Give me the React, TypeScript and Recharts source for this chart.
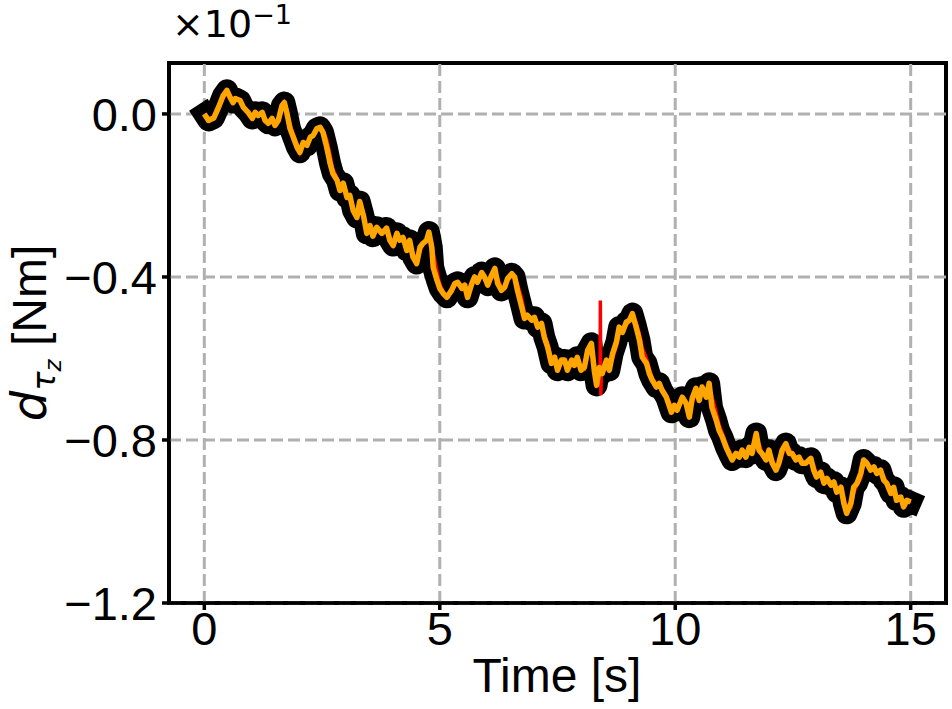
import React from 'react';
import { LineChart, Line, XAxis, YAxis, ReferenceLine, ReferenceArea } from 'recharts';

// Time stamps [s]
const TIME = [0.0,0.09,0.2,0.3,0.4,0.48,0.55,0.61,0.66,0.76,0.83,0.93,1.02,1.08,1.14,1.23,1.29,1.36,1.44,1.5,1.57,1.65,1.7,1.75,1.82,1.89,1.97,2.03,2.1,2.18,2.25,2.31,2.39,2.46,2.52,2.6,2.67,2.73,2.82,2.88,2.95,3.03,3.09,3.16,3.24,3.3,3.38,3.45,3.52,3.58,3.66,3.77,3.87,3.94,4.01,4.09,4.15,4.22,4.3,4.36,4.43,4.51,4.58,4.64,4.72,4.77,4.83,4.86,4.94,5.0,5.07,5.15,5.25,5.32,5.38,5.47,5.53,5.59,5.68,5.74,5.8,5.89,5.95,6.02,6.1,6.17,6.23,6.31,6.38,6.44,6.53,6.59,6.65,6.74,6.8,6.86,6.95,7.01,7.08,7.16,7.22,7.29,7.37,7.44,7.5,7.58,7.65,7.71,7.8,7.86,7.92,8.0,8.07,8.14,8.22,8.28,8.33,8.39,8.45,8.54,8.6,8.67,8.75,8.81,8.88,8.96,9.03,9.09,9.17,9.24,9.3,9.39,9.45,9.51,9.6,9.66,9.72,9.81,9.92,9.98,10.04,10.15,10.23,10.3,10.36,10.44,10.51,10.57,10.66,10.72,10.78,10.87,10.93,11.0,11.08,11.14,11.21,11.29,11.36,11.42,11.5,11.57,11.63,11.72,11.78,11.84,11.93,11.99,12.06,12.14,12.2,12.27,12.35,12.42,12.48,12.56,12.63,12.69,12.77,12.88,12.94,13.0,13.09,13.16,13.22,13.31,13.37,13.43,13.52,13.58,13.64,13.73,13.79,13.86,13.94,14.0,14.07,14.15,14.22,14.28,14.36,14.43,14.49,14.58,14.64,14.7,14.79,14.85,14.92,15.0];

// Reference disturbance (black), x10^-1 Nm
const TRUTH = [0.0,-0.016,-0.01,0.016,0.045,0.058,0.04,0.028,0.038,0.033,0.016,0.004,-0.011,0.004,-0.004,0.004,-0.016,-0.023,-0.011,-0.028,-0.016,0.021,0.028,0.004,-0.036,-0.057,-0.082,-0.094,-0.07,-0.077,-0.057,-0.053,-0.036,-0.033,-0.045,-0.082,-0.121,-0.146,-0.163,-0.188,-0.17,-0.205,-0.2,-0.237,-0.254,-0.215,-0.25,-0.293,-0.274,-0.3,-0.278,-0.293,-0.28,-0.31,-0.323,-0.293,-0.31,-0.303,-0.335,-0.31,-0.351,-0.367,-0.327,-0.318,-0.31,-0.29,-0.327,-0.376,-0.408,-0.428,-0.44,-0.45,-0.433,-0.416,-0.413,-0.428,-0.42,-0.45,-0.416,-0.4,-0.413,-0.389,-0.4,-0.42,-0.396,-0.379,-0.416,-0.433,-0.425,-0.404,-0.392,-0.4,-0.433,-0.474,-0.502,-0.494,-0.506,-0.499,-0.523,-0.514,-0.548,-0.572,-0.612,-0.597,-0.629,-0.604,-0.604,-0.629,-0.604,-0.617,-0.597,-0.629,-0.622,-0.58,-0.563,-0.629,-0.666,-0.622,-0.637,-0.604,-0.629,-0.588,-0.56,-0.523,-0.536,-0.511,-0.506,-0.49,-0.523,-0.555,-0.597,-0.612,-0.637,-0.653,-0.67,-0.661,-0.678,-0.695,-0.732,-0.715,-0.727,-0.695,-0.71,-0.744,-0.698,-0.673,-0.703,-0.67,-0.695,-0.661,-0.72,-0.751,-0.776,-0.793,-0.818,-0.833,-0.849,-0.833,-0.842,-0.825,-0.842,-0.818,-0.833,-0.784,-0.825,-0.833,-0.849,-0.825,-0.857,-0.874,-0.857,-0.825,-0.809,-0.833,-0.833,-0.849,-0.842,-0.857,-0.857,-0.845,-0.874,-0.891,-0.879,-0.906,-0.894,-0.911,-0.903,-0.928,-0.916,-0.955,-0.98,-0.955,-0.916,-0.906,-0.882,-0.849,-0.857,-0.874,-0.866,-0.882,-0.874,-0.899,-0.906,-0.931,-0.916,-0.948,-0.94,-0.964,-0.948,-0.952];

// Estimator A (blue)
const EST_BLUE = [0.0,-0.012,-0.008,0.014,0.042,0.055,0.042,0.03,0.036,0.03,0.014,0.002,-0.01,0.002,-0.004,0.002,-0.014,-0.022,-0.012,-0.026,-0.018,0.016,0.024,0.002,-0.04,-0.066,-0.088,-0.09,-0.068,-0.074,-0.058,-0.054,-0.04,-0.036,-0.05,-0.09,-0.128,-0.15,-0.166,-0.184,-0.172,-0.2,-0.202,-0.232,-0.25,-0.22,-0.254,-0.288,-0.278,-0.296,-0.282,-0.29,-0.284,-0.306,-0.32,-0.298,-0.308,-0.306,-0.33,-0.314,-0.348,-0.362,-0.33,-0.32,-0.312,-0.296,-0.34,-0.384,-0.412,-0.43,-0.44,-0.446,-0.43,-0.418,-0.416,-0.426,-0.424,-0.444,-0.418,-0.404,-0.41,-0.392,-0.402,-0.416,-0.398,-0.384,-0.412,-0.43,-0.424,-0.406,-0.394,-0.404,-0.44,-0.478,-0.5,-0.496,-0.504,-0.5,-0.52,-0.518,-0.552,-0.578,-0.606,-0.6,-0.624,-0.606,-0.608,-0.626,-0.606,-0.614,-0.6,-0.626,-0.62,-0.584,-0.57,-0.624,-0.66,-0.626,-0.634,-0.608,-0.626,-0.59,-0.564,-0.528,-0.534,-0.514,-0.508,-0.494,-0.53,-0.562,-0.6,-0.616,-0.64,-0.656,-0.672,-0.664,-0.68,-0.7,-0.728,-0.718,-0.724,-0.698,-0.712,-0.738,-0.7,-0.678,-0.7,-0.674,-0.692,-0.666,-0.728,-0.758,-0.78,-0.796,-0.82,-0.834,-0.846,-0.836,-0.84,-0.828,-0.84,-0.822,-0.83,-0.79,-0.822,-0.834,-0.846,-0.828,-0.856,-0.87,-0.858,-0.828,-0.812,-0.83,-0.836,-0.846,-0.844,-0.854,-0.856,-0.848,-0.872,-0.888,-0.882,-0.902,-0.896,-0.908,-0.906,-0.924,-0.92,-0.95,-0.972,-0.958,-0.92,-0.908,-0.886,-0.854,-0.858,-0.872,-0.868,-0.88,-0.876,-0.896,-0.908,-0.928,-0.92,-0.944,-0.942,-0.96,-0.95,-0.952];

// Estimator B (red)
const EST_RED = [0.0,-0.01,-0.012,0.01,0.038,0.054,0.044,0.03,0.034,0.034,0.018,0.006,-0.008,0.0,-0.002,0.002,-0.012,-0.02,-0.014,-0.024,-0.02,0.012,0.026,0.01,-0.026,-0.05,-0.074,-0.094,-0.074,-0.074,-0.06,-0.052,-0.04,-0.032,-0.04,-0.064,-0.1,-0.136,-0.158,-0.18,-0.176,-0.198,-0.204,-0.228,-0.25,-0.226,-0.244,-0.282,-0.282,-0.292,-0.284,-0.288,-0.286,-0.302,-0.318,-0.302,-0.306,-0.308,-0.326,-0.318,-0.342,-0.362,-0.336,-0.32,-0.314,-0.298,-0.316,-0.34,-0.386,-0.418,-0.436,-0.448,-0.438,-0.42,-0.414,-0.424,-0.426,-0.44,-0.424,-0.406,-0.41,-0.394,-0.398,-0.414,-0.402,-0.386,-0.404,-0.426,-0.428,-0.41,-0.394,-0.398,-0.418,-0.452,-0.49,-0.498,-0.5,-0.502,-0.514,-0.52,-0.538,-0.564,-0.6,-0.604,-0.62,-0.612,-0.606,-0.622,-0.61,-0.612,-0.604,-0.622,-0.626,-0.592,-0.566,-0.61,-0.654,-0.63,-0.636,-0.612,-0.62,-0.6,-0.57,-0.534,-0.532,-0.518,-0.508,-0.496,-0.512,-0.54,-0.574,-0.6,-0.626,-0.648,-0.664,-0.666,-0.674,-0.69,-0.72,-0.722,-0.722,-0.704,-0.708,-0.73,-0.71,-0.68,-0.696,-0.68,-0.688,-0.668,-0.694,-0.732,-0.762,-0.784,-0.81,-0.826,-0.842,-0.84,-0.838,-0.832,-0.836,-0.826,-0.828,-0.8,-0.81,-0.83,-0.842,-0.834,-0.848,-0.868,-0.864,-0.836,-0.814,-0.822,-0.834,-0.842,-0.846,-0.85,-0.858,-0.85,-0.862,-0.884,-0.886,-0.898,-0.9,-0.904,-0.908,-0.92,-0.922,-0.94,-0.97,-0.966,-0.93,-0.91,-0.894,-0.86,-0.854,-0.866,-0.87,-0.876,-0.878,-0.89,-0.906,-0.922,-0.924,-0.938,-0.944,-0.956,-0.954,-0.95];

// Short transient in estimator B
const RED_SPIKE_T = [8.405, 8.41, 8.415, 8.42, 8.43];
const RED_SPIKE_V = [-0.62, -0.458, -0.6, -0.69, -0.64];

// Estimator C (orange)
const EST_ORANGE = [0.0,-0.016,-0.01,0.016,0.045,0.058,0.04,0.028,0.038,0.033,0.016,0.004,-0.011,0.004,-0.004,0.004,-0.016,-0.023,-0.011,-0.028,-0.016,0.021,0.028,0.004,-0.036,-0.057,-0.082,-0.094,-0.07,-0.077,-0.057,-0.053,-0.036,-0.033,-0.045,-0.082,-0.121,-0.146,-0.163,-0.188,-0.17,-0.205,-0.2,-0.237,-0.254,-0.215,-0.25,-0.293,-0.274,-0.3,-0.278,-0.293,-0.28,-0.31,-0.323,-0.293,-0.31,-0.303,-0.335,-0.31,-0.351,-0.367,-0.327,-0.318,-0.31,-0.29,-0.327,-0.376,-0.408,-0.428,-0.44,-0.45,-0.433,-0.416,-0.413,-0.428,-0.42,-0.45,-0.416,-0.4,-0.413,-0.389,-0.4,-0.42,-0.396,-0.379,-0.416,-0.433,-0.425,-0.404,-0.392,-0.4,-0.433,-0.474,-0.502,-0.494,-0.506,-0.499,-0.523,-0.514,-0.548,-0.572,-0.612,-0.597,-0.629,-0.604,-0.604,-0.629,-0.604,-0.617,-0.597,-0.629,-0.622,-0.58,-0.563,-0.629,-0.666,-0.622,-0.637,-0.604,-0.629,-0.588,-0.56,-0.523,-0.536,-0.511,-0.506,-0.49,-0.523,-0.555,-0.597,-0.612,-0.637,-0.653,-0.67,-0.661,-0.678,-0.695,-0.732,-0.715,-0.727,-0.695,-0.71,-0.744,-0.698,-0.673,-0.703,-0.67,-0.695,-0.661,-0.72,-0.751,-0.776,-0.793,-0.818,-0.833,-0.849,-0.833,-0.842,-0.825,-0.842,-0.818,-0.833,-0.784,-0.825,-0.833,-0.849,-0.825,-0.857,-0.874,-0.857,-0.825,-0.809,-0.833,-0.833,-0.849,-0.842,-0.857,-0.857,-0.845,-0.874,-0.891,-0.879,-0.906,-0.894,-0.911,-0.903,-0.928,-0.916,-0.955,-0.98,-0.955,-0.916,-0.906,-0.882,-0.849,-0.857,-0.874,-0.866,-0.882,-0.874,-0.899,-0.906,-0.931,-0.916,-0.948,-0.94,-0.964,-0.948,-0.952];

const X_TICKS = [0, 5, 10, 15];
const Y_TICKS = [0, -0.4, -0.8, -1.2];
const X_DOMAIN = [-0.75, 15.75];
const Y_DOMAIN = [-1.2, 0.125];

const toSeries = (t: number[], v: number[]) => t.map((x, i) => ({ t: x, v: v[i] }));

const truthData = toSeries(TIME, TRUTH);
const blueData = toSeries(TIME, EST_BLUE);
const redData = [...toSeries(TIME, EST_RED), ...toSeries(RED_SPIKE_T, RED_SPIKE_V)].sort((a, b) => a.t - b.t);
const orangeData = toSeries(TIME, EST_ORANGE);

const FONT = '"Liberation Sans", Arial, Helvetica, sans-serif';
const MATH = '"DejaVu Sans", sans-serif';
const GRID = { stroke: '#b0b0b0', strokeWidth: 3, strokeDasharray: '12 5' };

const fmtY = (v: number) => (Math.abs(v) < 1e-9 ? '0.0' : v < 0 ? '\u2212' + Math.abs(v).toFixed(1) : v.toFixed(1));

export default function App() {
  return (
    <div style={{ position: 'absolute', left: 0, top: 0, width: 952, height: 709, background: '#fff' }}>
      <LineChart width={952} height={709} margin={{ top: 63, right: 6, bottom: 0, left: 0 }}>
        <XAxis
          type="number"
          dataKey="t"
          domain={X_DOMAIN}
          ticks={X_TICKS}
          allowDataOverflow
          height={106}
          tickSize={7}
          tickMargin={2}
          axisLine={{ stroke: '#000', strokeWidth: 3.5 }}
          tickLine={{ stroke: '#000', strokeWidth: 3.5 }}
          tick={{ fill: '#000', fontSize: 47, fontFamily: FONT }}
        />
        <YAxis
          type="number"
          dataKey="v"
          domain={Y_DOMAIN}
          ticks={Y_TICKS}
          allowDataOverflow
          width={169}
          tickSize={7}
          tickMargin={5}
          tickFormatter={fmtY}
          axisLine={{ stroke: '#000', strokeWidth: 3.5 }}
          tickLine={{ stroke: '#000', strokeWidth: 3.5 }}
          tick={{ fill: '#000', fontSize: 47, fontFamily: FONT }}
        />
        {X_TICKS.map((x) => (
          <ReferenceLine key={'gx' + x} x={x} {...GRID} />
        ))}
        {Y_TICKS.map((y) => (
          <ReferenceLine key={'gy' + y} y={y} {...GRID} />
        ))}
        <Line data={truthData} dataKey="v" type="linear" stroke="#000" strokeWidth={22} strokeLinejoin="round" strokeLinecap="square" dot={false} isAnimationActive={false} />
        <Line data={blueData} dataKey="v" type="linear" stroke="#0000ff" strokeWidth={3.5} dot={false} isAnimationActive={false} />
        <Line data={redData} dataKey="v" type="linear" stroke="#ff0000" strokeWidth={3.5} dot={false} isAnimationActive={false} />
        <Line data={orangeData} dataKey="v" type="linear" stroke="#ffa500" strokeWidth={5.5} strokeLinejoin="round" dot={false} isAnimationActive={false} />
        <ReferenceArea x1={X_DOMAIN[0]} x2={X_DOMAIN[1]} y1={Y_DOMAIN[0]} y2={Y_DOMAIN[1]} fill="none" fillOpacity={0} stroke="#000" strokeWidth={4} strokeOpacity={1} ifOverflow="visible" />
        <text x={557} y={692} textAnchor="middle" fontSize={48} fontFamily={FONT} fill="#000">Time [s]</text>
        <text transform="translate(46,333) rotate(-90)" textAnchor="middle" fontSize={48} fontFamily={FONT} fill="#000">
          <tspan fontFamily={MATH} fontStyle="italic">d</tspan>
          <tspan fontFamily={MATH} fontStyle="italic" fontSize={32} dy={9}>{'\u03C4'}</tspan>
          <tspan fontFamily={MATH} fontStyle="italic" fontSize={23} dy={6}>z</tspan>
          <tspan dy={-15}>{'  [Nm]'}</tspan>
        </text>
        <text x={172} y={37} fontSize={38} fontFamily={MATH} fill="#000">
          <tspan>{'\u00D710'}</tspan>
          <tspan fontSize={27} dy={-13}>{'\u22121'}</tspan>
        </text>
      </LineChart>
    </div>
  );
}
